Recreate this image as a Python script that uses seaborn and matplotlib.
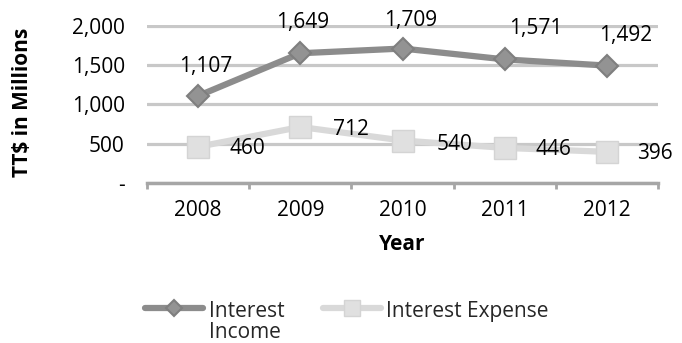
import matplotlib
matplotlib.use("Agg")
import matplotlib.pyplot as plt
import seaborn as sns
import pandas as pd

# ---- data ----
years = ["2008", "2009", "2010", "2011", "2012"]
interest_income = [1107, 1649, 1709, 1571, 1492]
interest_expense = [460, 712, 540, 446, 396]
income_labels = ["1,107", "1,649", "1,709", "1,571", "1,492"]
expense_labels = ["460", "712", "540", "446", "396"]
y_ticks = [0, 500, 1000, 1500, 2000]
y_tick_labels = ["-", "500", "1,000", "1,500", "2,000"]
series_names = ["Interest\nIncome", "Interest Expense"]

# label offsets (pixels) - styling only
income_offsets = [(8, 29), (2, 31), (8, 28), (31, 31), (19, 30)]
expense_offsets = [(49, -2), (51, -3), (52, -4), (49, -2), (48, -2)]

sns.set_theme(style="white")
plt.rcParams['font.family'] = ['Open Sans', 'DejaVu Sans']

W, H = 682, 343
fig = plt.figure(figsize=(W / 100, H / 100), dpi=100)
ax = fig.add_axes([147 / W, 1 - 183 / H, 511 / W, 158 / H])

df_inc = pd.DataFrame({"Year": years, "Value": interest_income})
df_exp = pd.DataFrame({"Year": years, "Value": interest_expense})

sns.lineplot(data=df_exp, x="Year", y="Value", ax=ax, color="#d9d9d9",
             lw=4.5, marker="s", markersize=16, markerfacecolor="#e0e0e0",
             markeredgecolor="#d4d4d4", markeredgewidth=1, label=series_names[1],
             zorder=3, sort=False)
sns.lineplot(data=df_inc, x="Year", y="Value", ax=ax, color="#8c8c8c",
             lw=4.5, marker="D", markersize=11, markerfacecolor="#939393",
             markeredgecolor="#7f7f7f", markeredgewidth=1.5, label=series_names[0],
             zorder=4, sort=False)

ax.set_xlim(-0.5, len(years) - 0.5)
ax.set_ylim(0, 2008)
ax.set_yticks(y_ticks)
ax.set_yticklabels(y_tick_labels)

ax.yaxis.grid(True, color="#c8c8c8", lw=2.3)
ax.xaxis.grid(False)
ax.set_axisbelow(True)
for s in ["left", "top", "right"]:
    ax.spines[s].set_visible(False)
ax.spines["bottom"].set_color("#a6a6a6")
ax.spines["bottom"].set_linewidth(2.5)
ax.spines["bottom"].set_zorder(2)

ax.set_xticks([i - 0.5 for i in range(len(years) + 1)], minor=True)
ax.tick_params(axis="x", which="minor", length=4, width=2, color="#a6a6a6",
               direction="out", bottom=True)
ax.tick_params(axis="x", which="major", length=0, pad=12, labelsize=15,
               labelcolor="black")
ax.tick_params(axis="y", which="both", length=0, pad=16, labelsize=15,
               labelcolor="black")

ax.set_xlabel("Year", fontsize=15, fontweight="bold", color="black", va="center")
ax.xaxis.set_label_coords(0.5, (183 - 244) / 158)
ax.set_ylabel("TT$ in Millions", fontsize=15, fontweight="bold", color="black",
              va="center")
ax.yaxis.set_label_coords((23 - 147) / 511, 0.5 + 2 / 158)

for i, (v, t) in enumerate(zip(interest_income, income_labels)):
    ax.annotate(t, (i, v), xytext=income_offsets[i], textcoords="offset pixels",
                ha="center", va="center", fontsize=15, color="black",
                annotation_clip=False, zorder=6)
for i, (v, t) in enumerate(zip(interest_expense, expense_labels)):
    ax.annotate(t, (i, v), xytext=expense_offsets[i], textcoords="offset pixels",
                ha="center", va="center", fontsize=15, color="black",
                annotation_clip=False, zorder=6)

handles, labels = ax.get_legend_handles_labels()
ax.get_legend().remove()
order = [labels.index(series_names[0]), labels.index(series_names[1])]
leg = fig.legend([handles[k] for k in order], [labels[k] for k in order],
                 loc="upper left", bbox_to_anchor=(145 / W, 1 - 301 / H),
                 ncol=2, frameon=False, fontsize=15, borderpad=0,
                 borderaxespad=0, handlelength=2.8, handletextpad=0.25,
                 columnspacing=1.85, markerscale=0.7, labelspacing=0.2)
leg._legend_handle_box.align = "top"
for col in leg._legend_handle_box.get_children():
    col.align = "left"
    for hp in col.get_children():
        hp.align = "top"
for t in leg.get_texts():
    t.set_linespacing(1.0)

fig.savefig("out.png", dpi=100)
